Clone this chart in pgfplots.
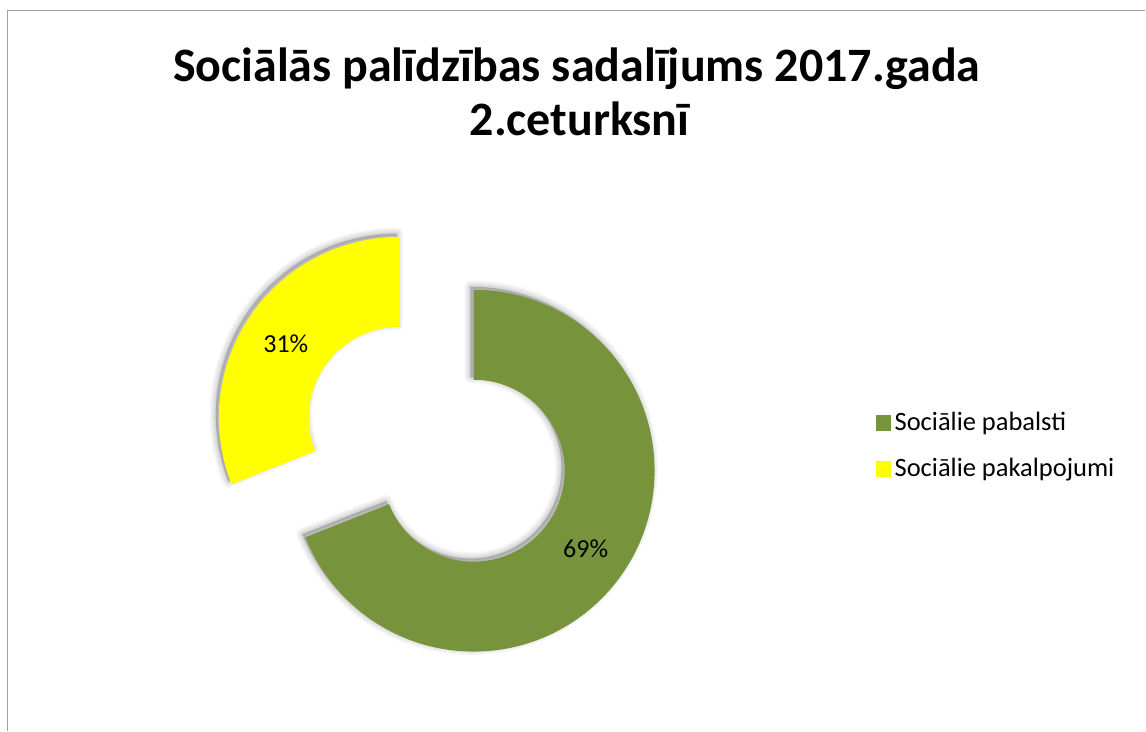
\documentclass[border=0pt]{standalone}
\usepackage{fontspec}
\setmainfont{Carlito}
\usepackage{pgfplots}
\pgfplotsset{compat=1.18}
\usepackage{pgfplotstable}
\definecolor{xgreen}{HTML}{77933C}
\definecolor{xyellow}{HTML}{FFFF00}
\definecolor{frame}{HTML}{A0A0A0}
% share (percent) of each part
\pgfplotstableread{
part value
1 69
2 31
}\datatable
\pgfplotstablegetelem{0}{value}\of\datatable \let\vA\pgfplotsretval
\pgfplotstablegetelem{1}{value}\of\datatable \let\vB\pgfplotsretval
\newcommand{\seg}[4]{% cx, cy, start angle, end angle
  (axis cs:#1,#2) ++(#3:181pt) arc[start angle=#3, end angle=#4, radius=181pt]
  -- ++(#4+180:90pt) arc[start angle=#4, end angle=#3, radius=91pt] -- cycle}
\newcommand{\shl}[6]{%
  \filldraw[black, opacity=#6, line width=#5pt, line join=round]
      [xshift=-3pt, yshift=3pt] \seg{#1}{#2}{#3}{#4};}
\newcommand{\shadowseg}[4]{%
  \shl{#1}{#2}{#3}{#4}{13}{0.03}
  \shl{#1}{#2}{#3}{#4}{10}{0.035}
  \shl{#1}{#2}{#3}{#4}{7}{0.04}
  \shl{#1}{#2}{#3}{#4}{4}{0.05}
  \shl{#1}{#2}{#3}{#4}{1}{0.06}}
\begin{document}
\begin{tikzpicture}
\begin{axis}[
  hide axis, scale only axis, clip=false,
  width=1146pt, height=731pt,
  xmin=0, xmax=1146, ymin=0, ymax=731,
  legend cell align=left,
  legend style={at={(axis cs:876,321)}, anchor=north west, draw=none, fill=none,
    inner sep=0pt, row sep=22pt,
    font=\fontsize{26.5}{31}\selectfont,
    nodes={inner sep=2pt}},
  legend image code/.code={\fill[#1, draw=none] (0pt,-9pt) rectangle (15pt,7pt);
    \path[draw=none, fill=none] (0pt,0pt) -- (17pt,0pt);},
]
\path (axis cs:0,0) rectangle (axis cs:1146,731);
\pgfmathsetmacro{\aS}{90}
\pgfmathsetmacro{\aM}{90-3.6*\vA}
\pgfmathsetmacro{\aE}{\aM-3.6*\vB}
% shadows
\shadowseg{474}{260}{\aS}{\aM}
\shadowseg{400}{313}{\aM}{\aE}
% segments
\fill[xgreen] \seg{474}{260}{\aS}{\aM};
\fill[xyellow] \seg{400}{313}{\aM}{\aE};
% labels
\node[font=\fontsize{26}{30}\selectfont] at (axis cs:586,182) {\pgfmathprintnumber[assume math mode=true]{\vA}\%};
\node[font=\fontsize{26}{30}\selectfont] at (axis cs:286,387) {\pgfmathprintnumber[assume math mode=true]{\vB}\%};
% legend
\addlegendimage{fill=xgreen}
\addlegendentry{Sociālie pabalsti}
\addlegendimage{fill=xyellow}
\addlegendentry{Sociālie pakalpojumi}
% title
\node[font=\bfseries\fontsize{48}{54}\selectfont, anchor=base] at (axis cs:577,649) {Sociālās palīdzības sadalījums 2017.gada};
\node[font=\bfseries\fontsize{48}{54}\selectfont, anchor=base] at (axis cs:580,595) {2.ceturksnī};
% frame
\draw[frame, line width=1.5pt] (axis cs:7.5,0) -- (axis cs:7.5,720.5) -- (axis cs:1146,720.5);
\end{axis}
\end{tikzpicture}
\end{document}
